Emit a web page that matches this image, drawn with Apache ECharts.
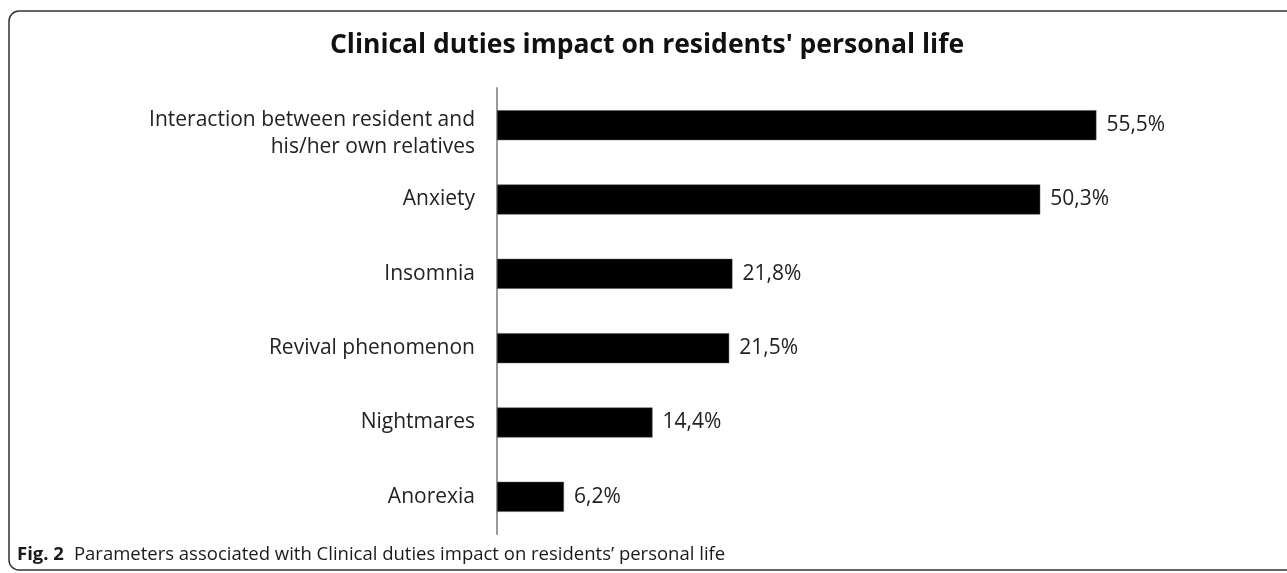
<!DOCTYPE html>
<html>
<head>
<meta charset="utf-8">
<script src="https://cdn.jsdelivr.net/npm/echarts@6/dist/echarts.min.js"></script>
<style>
html,body{margin:0;padding:0;background:#fff;}
#c{width:1287px;height:573px;}
</style>
</head>
<body>
<div id="c"></div>
<script>
const categories = [
  "Interaction between resident and\nhis/her own relatives",
  "Anxiety",
  "Insomnia",
  "Revival phenomenon",
  "Nightmares",
  "Anorexia"
];
const values = [55.5, 50.3, 21.8, 21.5, 14.4, 6.2];
const titleText = "Clinical duties impact on residents' personal life";
const captionLabel = "Fig. 2";
const captionText = "Parameters associated with Clinical duties impact on residents\u2019 personal life";

const chart = echarts.init(document.getElementById('c'));
chart.setOption({
  backgroundColor: '#fff',
  animation: false,
  title: [{
    text: titleText,
    left: 642, top: 27, textAlign: 'center',
    textStyle: {fontFamily: 'Open Sans', fontWeight: 'bold', fontSize: 26.5, color: '#111'}
  }, {
    text: '{b|' + captionLabel + '}  {r|' + captionText + '}',
    left: 12, top: 540,
    textStyle: {
      fontWeight: 'normal',
      rich: {
        b: {fontFamily: 'Open Sans', fontWeight: 'bold', fontSize: 18.5, color: '#1a1a1a'},
        r: {fontFamily: 'Open Sans', fontWeight: 'normal', fontSize: 18.5, color: '#1a1a1a'}
      }
    }
  }],
  graphic: [{
    type: 'rect', silent: true, z: -1,
    shape: {x: 9, y: 11, width: 1320, height: 559, r: 10},
    style: {fill: 'none', stroke: '#333', lineWidth: 1.5}
  }],
  grid: {left: 497, top: 88, width: 648, height: 446},
  xAxis: {
    type: 'value', min: 0, max: 60, show: false
  },
  yAxis: {
    type: 'category', inverse: true, data: categories,
    axisLine: {show: true, lineStyle: {color: '#9a9a9a', width: 2}},
    axisTick: {show: false},
    axisLabel: {
      margin: 22, fontFamily: 'Open Sans', fontSize: 21, color: '#222',
      align: 'right',
      formatter: v => v.indexOf('\n') >= 0 ? '{m|' + v + '}' : v,
      rich: {
        m: {fontFamily: 'Open Sans', fontSize: 21, color: '#222', lineHeight: 27, padding: [16, 0, 0, 0], align: 'right'}
      }
    }
  },
  series: [{
    type: 'bar', data: values, barWidth: 30,
    itemStyle: {color: '#000', borderColor: '#555', borderWidth: 0.5},
    label: {
      show: true, position: 'right', distance: 10,
      fontFamily: 'Open Sans', fontSize: 21, color: '#222',
      formatter: p => p.value.toFixed(1).replace('.', ',') + '%'
    }
  }]
});
</script>
</body>
</html>
